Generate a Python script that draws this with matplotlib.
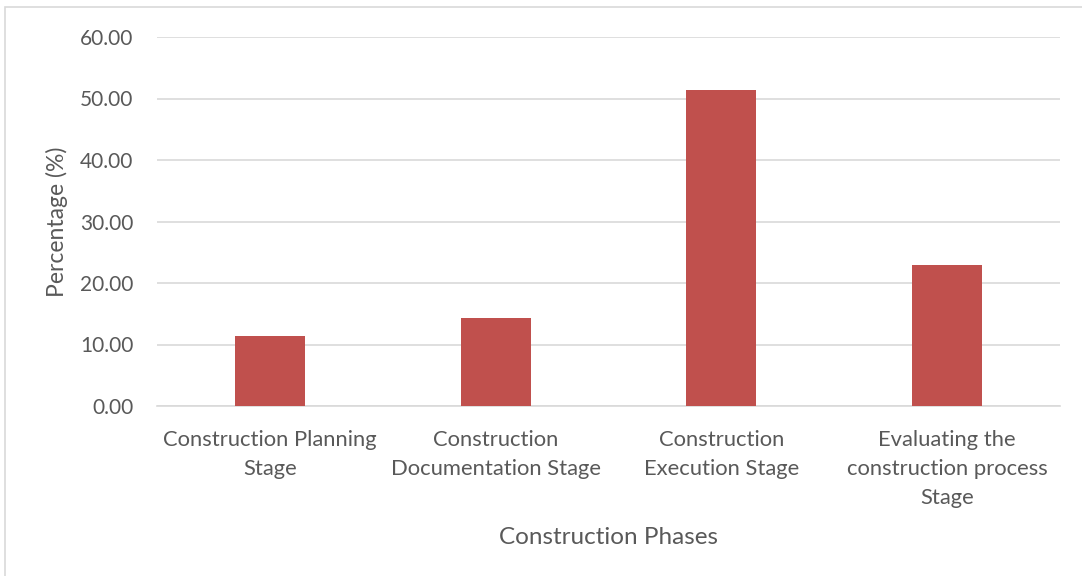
import matplotlib
matplotlib.use("Agg")
import matplotlib.pyplot as plt
import numpy as np
from matplotlib.patches import Rectangle
from matplotlib.ticker import FormatStrFormatter

# Share of respondents by construction phase
phases = [
    "Construction Planning\nStage",
    "Construction\nDocumentation Stage",
    "Construction\nExecution Stage",
    "Evaluating the\nconstruction process\nStage",
]
percentages = [11.43, 14.29, 51.43, 22.86]
y_ticks = [0, 10, 20, 30, 40, 50, 60]

BAR_COLOR = "#C0504D"
TEXT_COLOR = "#595959"
GRID_COLOR = "#D9D9D9"

plt.rcParams["font.family"] = ["Lato", "DejaVu Sans"]

fig = plt.figure(figsize=(10.82, 5.76), dpi=100)
ax = fig.add_axes([157 / 1082, 1 - 406 / 576, (1060 - 157) / 1082, (406 - 37) / 576])

# Outer chart frame
fig.patches.append(Rectangle((5 / 1082, -0.1), 1.2, 1 - 7 / 576 + 0.1,
                             transform=fig.transFigure, fill=False,
                             edgecolor=GRID_COLOR, linewidth=1.2))

x = np.arange(len(phases))
ax.bar(x, percentages, width=0.31, color=BAR_COLOR, zorder=3)

ax.set_xlim(-0.5, len(phases) - 0.5)
ax.set_ylim(0, 60)
ax.set_yticks(y_ticks)
ax.yaxis.set_major_formatter(FormatStrFormatter("%.2f"))
ax.set_xticks(x)
ax.set_xticklabels(phases, fontsize=15.8, color=TEXT_COLOR, linespacing=1.56)
ax.tick_params(axis="y", labelsize=15, labelcolor=TEXT_COLOR, length=0, pad=17)
ax.tick_params(axis="x", length=0, pad=17)

ax.grid(axis="y", color=GRID_COLOR, linewidth=1.2, zorder=0)
for side in ["top", "right", "left"]:
    ax.spines[side].set_visible(False)
ax.spines["bottom"].set_color(GRID_COLOR)
ax.spines["bottom"].set_linewidth(1.2)

ax.set_ylabel("Percentage (%)", fontsize=16.5, color=TEXT_COLOR, labelpad=9)
ax.set_xlabel("Construction Phases", fontsize=17.5, color=TEXT_COLOR, labelpad=14)

fig.savefig("out.png", dpi=100, facecolor="white")
